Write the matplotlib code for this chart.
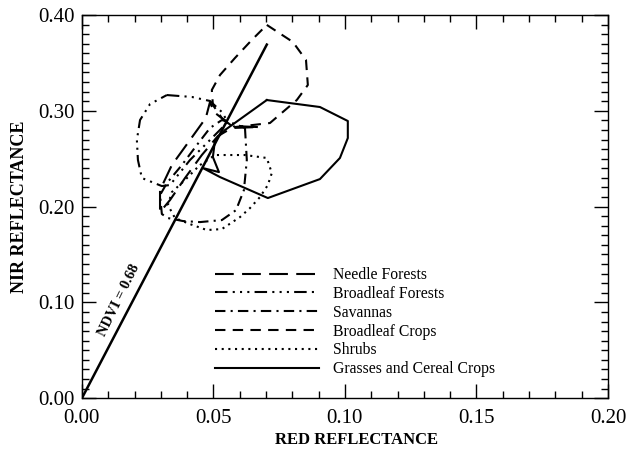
import matplotlib
matplotlib.use('Agg')
import matplotlib.pyplot as plt
from matplotlib.ticker import MultipleLocator, FormatStrFormatter

plt.rcParams['font.family'] = ['Liberation Serif', 'DejaVu Serif']

# polygons (red reflectance, NIR reflectance)
needle_x = [0.0669, 0.0570, 0.0502, 0.0487, 0.0471, 0.0411, 0.0342, 0.0297, 0.0297, 0.0335, 0.0392, 0.0456, 0.0517, 0.0570]
needle_y = [0.2830, 0.2841, 0.2987, 0.3091, 0.2924, 0.2695, 0.2433, 0.2172, 0.1943, 0.2068, 0.2298, 0.2538, 0.2736, 0.2820]

bforest_x = [0.0323, 0.0418, 0.0487, 0.0532, 0.0555, 0.0487, 0.0411, 0.0335, 0.0304, 0.0228, 0.0213, 0.0209, 0.0221, 0.0259]
bforest_y = [0.3164, 0.3144, 0.3102, 0.2987, 0.2883, 0.2695, 0.2486, 0.2225, 0.2214, 0.2298, 0.2486, 0.2695, 0.2903, 0.3070]

savanna_x = [0.0620, 0.0627, 0.0616, 0.0586, 0.0532, 0.0449, 0.0384, 0.0327, 0.0304, 0.0297, 0.0323, 0.0380, 0.0437, 0.0487, 0.0532, 0.0582]
savanna_y = [0.2820, 0.2486, 0.2172, 0.1963, 0.1859, 0.1838, 0.1849, 0.1880, 0.1922, 0.2120, 0.2245, 0.2433, 0.2642, 0.2820, 0.2903, 0.2862]

bcrop_x = [0.0703, 0.0802, 0.0852, 0.0859, 0.0817, 0.0715, 0.0582, 0.0532, 0.0498, 0.0494, 0.0525, 0.0582, 0.0646]
bcrop_y = [0.3896, 0.3718, 0.3530, 0.3269, 0.3112, 0.2872, 0.2830, 0.2924, 0.3060, 0.3217, 0.3373, 0.3551, 0.3739]

shrub_x = [0.0449, 0.0506, 0.0620, 0.0703, 0.0722, 0.0707, 0.0677, 0.0639, 0.0601, 0.0532, 0.0475, 0.0411, 0.0354, 0.0327, 0.0342, 0.0392, 0.0437]
shrub_y = [0.2433, 0.2538, 0.2538, 0.2507, 0.2350, 0.2225, 0.2099, 0.1984, 0.1890, 0.1765, 0.1755, 0.1817, 0.1880, 0.2016, 0.2151, 0.2277, 0.2402]

grass_x = [0.0703, 0.0905, 0.1011, 0.1011, 0.0981, 0.0905, 0.0707, 0.0525, 0.0460, 0.0521, 0.0498, 0.0506, 0.0544]
grass_y = [0.3112, 0.3039, 0.2893, 0.2715, 0.2507, 0.2287, 0.2089, 0.2308, 0.2402, 0.2360, 0.2517, 0.2695, 0.2799]

ndvi = 0.68
ndvi_red = [0.0, 0.0703]

labels = ['Needle Forests', 'Broadleaf Forests', 'Savannas',
          'Broadleaf Crops', 'Shrubs', 'Grasses and Cereal Crops']


def closed(xs, ys):
    return xs + xs[:1], ys + ys[:1]


fig = plt.figure(figsize=(6.3, 4.53), dpi=100)
ax = fig.add_axes([0.130, 0.121, 0.835, 0.846])

lw = 1.5
styles = [
    (0, (9, 4)),                       # long dashes
    (0, (6, 2.5, 1, 2.5, 1, 2.5, 1, 2.5)),  # dash dot dot dot
    (0, (5, 2.5, 1, 2.5)),             # dash dot
    (0, (5, 3.5)),                     # dashes
    (0, (1, 2.2)),                     # dots
    '-',
]
polys = [(needle_x, needle_y), (bforest_x, bforest_y), (savanna_x, savanna_y),
         (bcrop_x, bcrop_y), (shrub_x, shrub_y), (grass_x, grass_y)]

for (xs, ys), ls, lab in zip(polys, styles, labels):
    px, py = closed(xs, ys)
    ax.plot(px, py, color='black', lw=lw, linestyle=ls, label=lab)

# NDVI iso-line
ratio = (1 + ndvi) / (1 - ndvi)
ax.plot(ndvi_red, [r * ratio for r in ndvi_red], color='black', lw=1.8)
ax.text(0.0140, 0.102, 'NDVI = %.2f' % ndvi, rotation=64, fontsize=10.5,
        fontweight='bold', ha='center', va='center')

ax.set_xlim(0, 0.2)
ax.set_ylim(0, 0.4)
ax.xaxis.set_major_locator(MultipleLocator(0.05))
ax.xaxis.set_minor_locator(MultipleLocator(0.01))
ax.yaxis.set_major_locator(MultipleLocator(0.1))
ax.yaxis.set_minor_locator(MultipleLocator(0.01))
ax.xaxis.set_major_formatter(FormatStrFormatter('%.2f'))
ax.yaxis.set_major_formatter(FormatStrFormatter('%.2f'))
ax.tick_params(which='both', direction='in', top=True, right=True,
               labelsize=15, width=1.0)
ax.tick_params(which='major', length=10)
ax.tick_params(axis='x', which='major', pad=8)
ax.tick_params(axis='y', which='major', pad=5)
ax.tick_params(which='minor', length=5)
for s in ax.spines.values():
    s.set_linewidth(1.0)

ax.set_xlabel('RED REFLECTANCE', fontsize=12, fontweight='bold')
ax.xaxis.set_label_coords(0.522, -0.088)
ax.set_ylabel('NIR REFLECTANCE', fontsize=13, fontweight='bold')
ax.yaxis.set_label_coords(-0.103, 0.50)

ax.legend(loc='upper left', bbox_to_anchor=(0.253, 0.342), frameon=False,
          fontsize=11.3, handlelength=6.6, handletextpad=0.95,
          labelspacing=0.18, borderpad=0, borderaxespad=0)

fig.savefig('out.png', dpi=100)
